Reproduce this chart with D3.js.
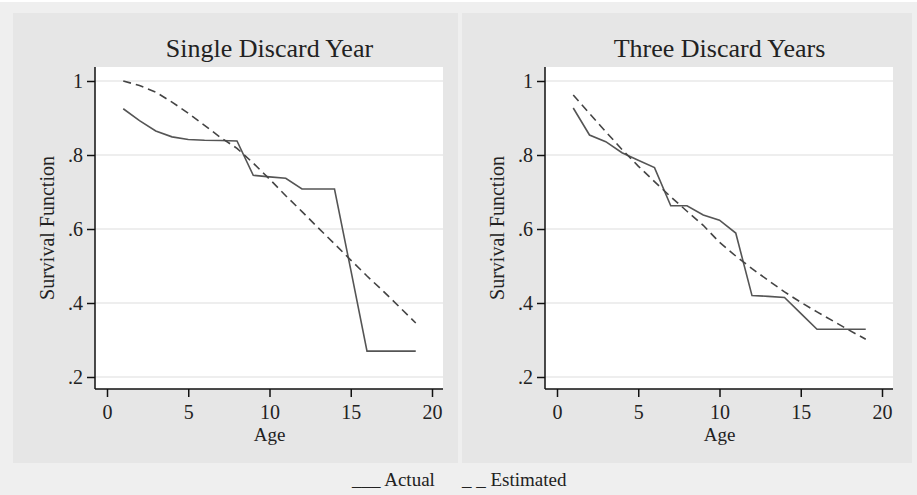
<!DOCTYPE html>
<html>
<head>
<meta charset="utf-8">
<script src="https://cdn.jsdelivr.net/npm/d3@7"></script>
<style>
  body { margin: 0; background: #fff; }
  text { font-family: "Liberation Serif", "Times New Roman", serif; fill: #222; }
</style>
</head>
<body>
<script>
// ages and survival values
var ages = [1, 2, 3, 4, 5, 6, 7, 8, 9, 10, 11, 12, 13, 14, 15, 16, 17, 18, 19];

var singleActual = [0.925, 0.893, 0.865, 0.849, 0.842, 0.840, 0.839, 0.838, 0.745, 0.741, 0.737,
                    0.708, 0.708, 0.708, 0.49, 0.27, 0.27, 0.27, 0.27];
var singleEstimated = [1.0, 0.988, 0.970, 0.943, 0.913, 0.880, 0.847, 0.818, 0.778, 0.735, 0.690,
                       0.647, 0.603, 0.560, 0.516, 0.473, 0.432, 0.389, 0.346];

var threeActual = [0.927, 0.854, 0.836, 0.806, 0.786, 0.766, 0.663, 0.663, 0.638, 0.624, 0.589,
                   0.420, 0.418, 0.415, 0.372, 0.329, 0.329, 0.329, 0.329];
var threeEstimated = [0.962, 0.912, 0.863, 0.815, 0.770, 0.728, 0.687, 0.648, 0.610, 0.564, 0.527,
                      0.493, 0.461, 0.430, 0.402, 0.376, 0.351, 0.326, 0.302];

var xTicks = [0, 5, 10, 15, 20];
var yTicks = [0.2, 0.4, 0.6, 0.8, 1];
var titles = ["Single Discard Year", "Three Discard Years"];
var legendLabels = ["___ Actual", "_ _ Estimated"];

var width = 917, height = 495;

var svg = d3.select("body").append("svg")
    .attr("width", width)
    .attr("height", height);

// outer background
svg.append("rect").attr("width", width).attr("height", height).attr("fill", "#efefef");
svg.append("rect").attr("width", width).attr("height", 2).attr("fill", "#fff");

var panels = [
  {left: 13, right: 458, plotL: 95, plotR: 443, actual: singleActual, est: singleEstimated, title: titles[0]},
  {left: 462, right: 912, plotL: 545, plotR: 893, actual: threeActual, est: threeEstimated, title: titles[1]}
];

var plotT = 67, plotB = 389;

panels.forEach(function(p) {
  var g = svg.append("g");

  g.append("rect")
      .attr("x", p.left).attr("y", 13)
      .attr("width", p.right - p.left).attr("height", 450)
      .attr("fill", "#e6e6e6");

  g.append("rect")
      .attr("x", p.plotL).attr("y", plotT)
      .attr("width", p.plotR - p.plotL).attr("height", plotB - plotT)
      .attr("fill", "#fff");

  var x = d3.scaleLinear().domain([0, 20]).range([p.plotL + 12, p.plotR - 11]);
  var y = d3.scaleLinear().domain([0.2, 1]).range([377, 81]);

  // grid
  g.selectAll(".grid")
      .data(yTicks)
      .enter().append("line")
      .attr("x1", p.plotL).attr("x2", p.plotR)
      .attr("y1", function(d) { return y(d); })
      .attr("y2", function(d) { return y(d); })
      .attr("stroke", "#e8e8e8")
      .attr("stroke-width", 1.5);

  // axes
  var yAxis = d3.axisLeft(y).tickValues(yTicks).tickSize(8).tickSizeOuter(0).tickPadding(4)
      .tickFormat(function(d) { return d === 1 ? "1" : d3.format(".1f")(d).replace(/^0/, ""); });
  var xAxis = d3.axisBottom(x).tickValues(xTicks).tickSize(8).tickSizeOuter(0).tickPadding(8);

  var ya = g.append("g").attr("transform", "translate(" + p.plotL + ",0)").call(yAxis);
  var xa = g.append("g").attr("transform", "translate(0," + plotB + ")").call(xAxis);

  [ya, xa].forEach(function(a) {
    a.select(".domain").remove();
    a.selectAll("line").attr("stroke", "#111").attr("stroke-width", 1.5);
    a.selectAll("text")
        .style("font-family", "Liberation Serif")
        .style("font-size", "20px")
        .attr("fill", "#222");
  });

  g.append("line")
      .attr("x1", p.plotL).attr("x2", p.plotL)
      .attr("y1", plotT).attr("y2", plotB)
      .attr("stroke", "#111").attr("stroke-width", 1.5);
  g.append("line")
      .attr("x1", p.plotL).attr("x2", p.plotR)
      .attr("y1", plotB).attr("y2", plotB)
      .attr("stroke", "#111").attr("stroke-width", 1.5);

  var line = d3.line()
      .x(function(d, i) { return x(ages[i]); })
      .y(function(d) { return y(d); });

  g.append("path")
      .datum(p.actual)
      .attr("d", line)
      .attr("fill", "none")
      .attr("stroke", "#555")
      .attr("stroke-width", 1.6);

  g.append("path")
      .datum(p.est)
      .attr("d", line)
      .attr("fill", "none")
      .attr("stroke", "#444")
      .attr("stroke-width", 1.6)
      .attr("stroke-dasharray", "8,5");

  // titles
  var cx = (x(0) + x(20)) / 2;
  g.append("text")
      .attr("x", cx).attr("y", 57)
      .attr("text-anchor", "middle")
      .style("font-size", "26px")
      .text(p.title);

  g.append("text")
      .attr("x", x(10)).attr("y", 441)
      .attr("text-anchor", "middle")
      .style("font-size", "19px")
      .text("Age");

  g.append("text")
      .attr("transform", "translate(" + (p.plotL - 41) + "," + ((plotT + plotB) / 2) + ") rotate(-90)")
      .attr("text-anchor", "middle")
      .style("font-size", "20px")
      .text("Survival Function");
});

// legend
svg.append("text")
    .attr("x", 352).attr("y", 486)
    .style("font-size", "19px")
    .text(legendLabels[0]);
svg.append("text")
    .attr("x", 462).attr("y", 486)
    .style("font-size", "19px")
    .text(legendLabels[1]);
</script>
</body>
</html>
